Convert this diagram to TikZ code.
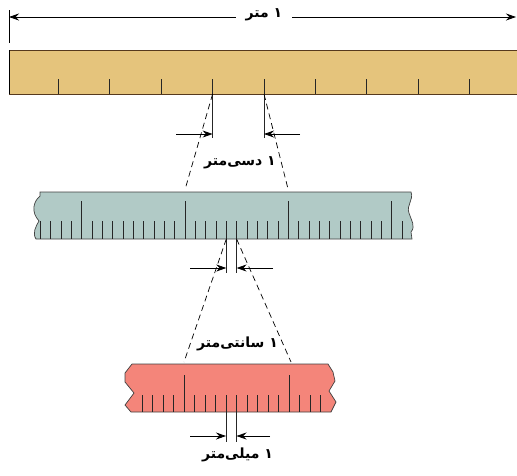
\documentclass[tikz,border=0pt]{standalone}
\usepackage{fontspec}
\newfontfamily\arabicfont[Script=Arabic]{DejaVu Sans}
\TeXXeTstate=1
\usetikzlibrary{arrows.meta}

\definecolor{metrefill}{HTML}{E5C47C}
\definecolor{cmfill}{HTML}{B1CAC6}
\definecolor{mmfill}{HTML}{F4857A}

\tikzset{
  lengthlabel/.style={font=\arabicfont\bfseries\fontsize{14}{16}\selectfont,inner sep=1pt},
  rulerside/.style={draw=black!75,line width=0.7pt},
  rulertick/.style={draw=black!85,line width=0.7pt},
  dimarrow/.style={draw,line width=0.8pt,-{Stealth[length=10pt,width=7pt]}},
  zoomline/.style={draw,line width=0.7pt,dash pattern=on 6pt off 4pt}
}

\begin{document}
\begin{tikzpicture}[x=1pt,y=-1pt]

  \path [use as bounding box,clip] (0,0) rectangle (517,475);

  % metre bar
  \node [lengthlabel,inner xsep=10pt] (metre) at (264,15) {\beginR ۱ متر\endR};
  \coordinate (m_left) at (9,17);
  \coordinate (m_right) at (516,17);
  \draw [line width=0.7pt] (9,10) -- (9,43);
  \draw [dimarrow] (metre.west |- m_left) -- (m_left);
  \draw [dimarrow] (metre.east |- m_right) -- (m_right);

  \path [fill=metrefill,draw=black!55!brown,line width=0.7pt] (9,50) rectangle (530,94);
  \draw [line width=0.9pt] (9,50) -- (9,94);
  \foreach \k in {1,...,9}
    \draw [rulertick] ({6.9+51.42*\k},79) -- ({6.9+51.42*\k},94);

  \coordinate (dm_a) at (212.6,94);
  \coordinate (dm_b) at (264.0,94);
  \draw [rulertick] (dm_a) -- ++(0,44);
  \draw [rulertick] (dm_b) -- ++(0,44);
  \coordinate (dm_in_a) at (212.6,134);
  \coordinate (dm_in_b) at (264.0,134);
  \coordinate (dm_out_a) at (176,134);
  \coordinate (dm_out_b) at (300,134);
  \draw [dimarrow] (dm_out_a) -- (dm_in_a);
  \draw [dimarrow] (dm_out_b) -- (dm_in_b);

  \node [lengthlabel] (decimetre) at (240,163) {\beginR ۱ دسی‌متر\endR};

  % centimetre ruler
  \path [rulerside,fill=cmfill]
    (40,192) -- (411,192)
    .. controls (414,200) and (406,205) .. (409,213)
    .. controls (411,220) and (416,226) .. (411,232)
    -- (412,239) -- (36,239)
    .. controls (32,233) and (36,226) .. (39,221)
    .. controls (31,212) and (33,202) .. (40,196) -- cycle;
  \foreach \m in {-4,...,31}
    \draw [rulertick] ({81.7+10.33*\m},221) -- ({81.7+10.33*\m},239);
  \foreach \j in {0,...,3}
    \draw [rulertick] ({81.7+103.3*\j},201) -- ({81.7+103.3*\j},239);

  \coordinate (cm_top_a) at (184.9,190);
  \coordinate (cm_top_b) at (288.3,190);
  \path [zoomline]
    (dm_a) edge (cm_top_a)
    (dm_b) edge (cm_top_b);

  \coordinate (cm_a) at (226.3,239);
  \coordinate (cm_b) at (236.6,239);
  \draw [rulertick] (cm_a) -- ++(0,34);
  \draw [rulertick] (cm_b) -- ++(0,34);
  \coordinate (cm_in_a) at (226.3,268);
  \coordinate (cm_in_b) at (236.6,268);
  \coordinate (cm_out_a) at (190,268);
  \coordinate (cm_out_b) at (273,268);
  \draw [dimarrow] (cm_out_a) -- (cm_in_a);
  \draw [dimarrow] (cm_out_b) -- (cm_in_b);

  \node [lengthlabel] (centimetre) at (237.5,344) {\beginR ۱ سانتی‌متر\endR};

  % millimetre ruler
  \path [rulerside,fill=mmfill]
    (132,364) -- (328,364) -- (333,372) -- (335,381) -- (329,391)
    -- (336,402) -- (331,412) -- (131,412) -- (125,405) -- (134,393)
    -- (125,382) -- (125,373) -- cycle;
  \foreach \m in {-4,...,13}
    \draw [rulertick] ({184+10.5*\m},395) -- ({184+10.5*\m},412);
  \foreach \j in {0,1}
    \draw [rulertick] ({184+105*\j},375) -- ({184+105*\j},412);

  \coordinate (mm_top_a) at (184,362);
  \coordinate (mm_top_b) at (291,362);
  \path [zoomline]
    (cm_a) edge (mm_top_a)
    (cm_b) edge (mm_top_b);

  \coordinate (mm_a) at (226,412);
  \coordinate (mm_b) at (236.5,412);
  \draw [rulertick] (mm_a) -- ++(0,30);
  \draw [rulertick] (mm_b) -- ++(0,30);
  \coordinate (mm_in_a) at (226,436);
  \coordinate (mm_in_b) at (236.5,436);
  \coordinate (mm_out_a) at (190,436);
  \coordinate (mm_out_b) at (270,436);
  \draw [dimarrow] (mm_out_a) -- (mm_in_a);
  \draw [dimarrow] (mm_out_b) -- (mm_in_b);

  \node [lengthlabel] (millimetre) at (237.5,455) {\beginR ۱ میلی‌متر\endR};

\end{tikzpicture}
\end{document}
